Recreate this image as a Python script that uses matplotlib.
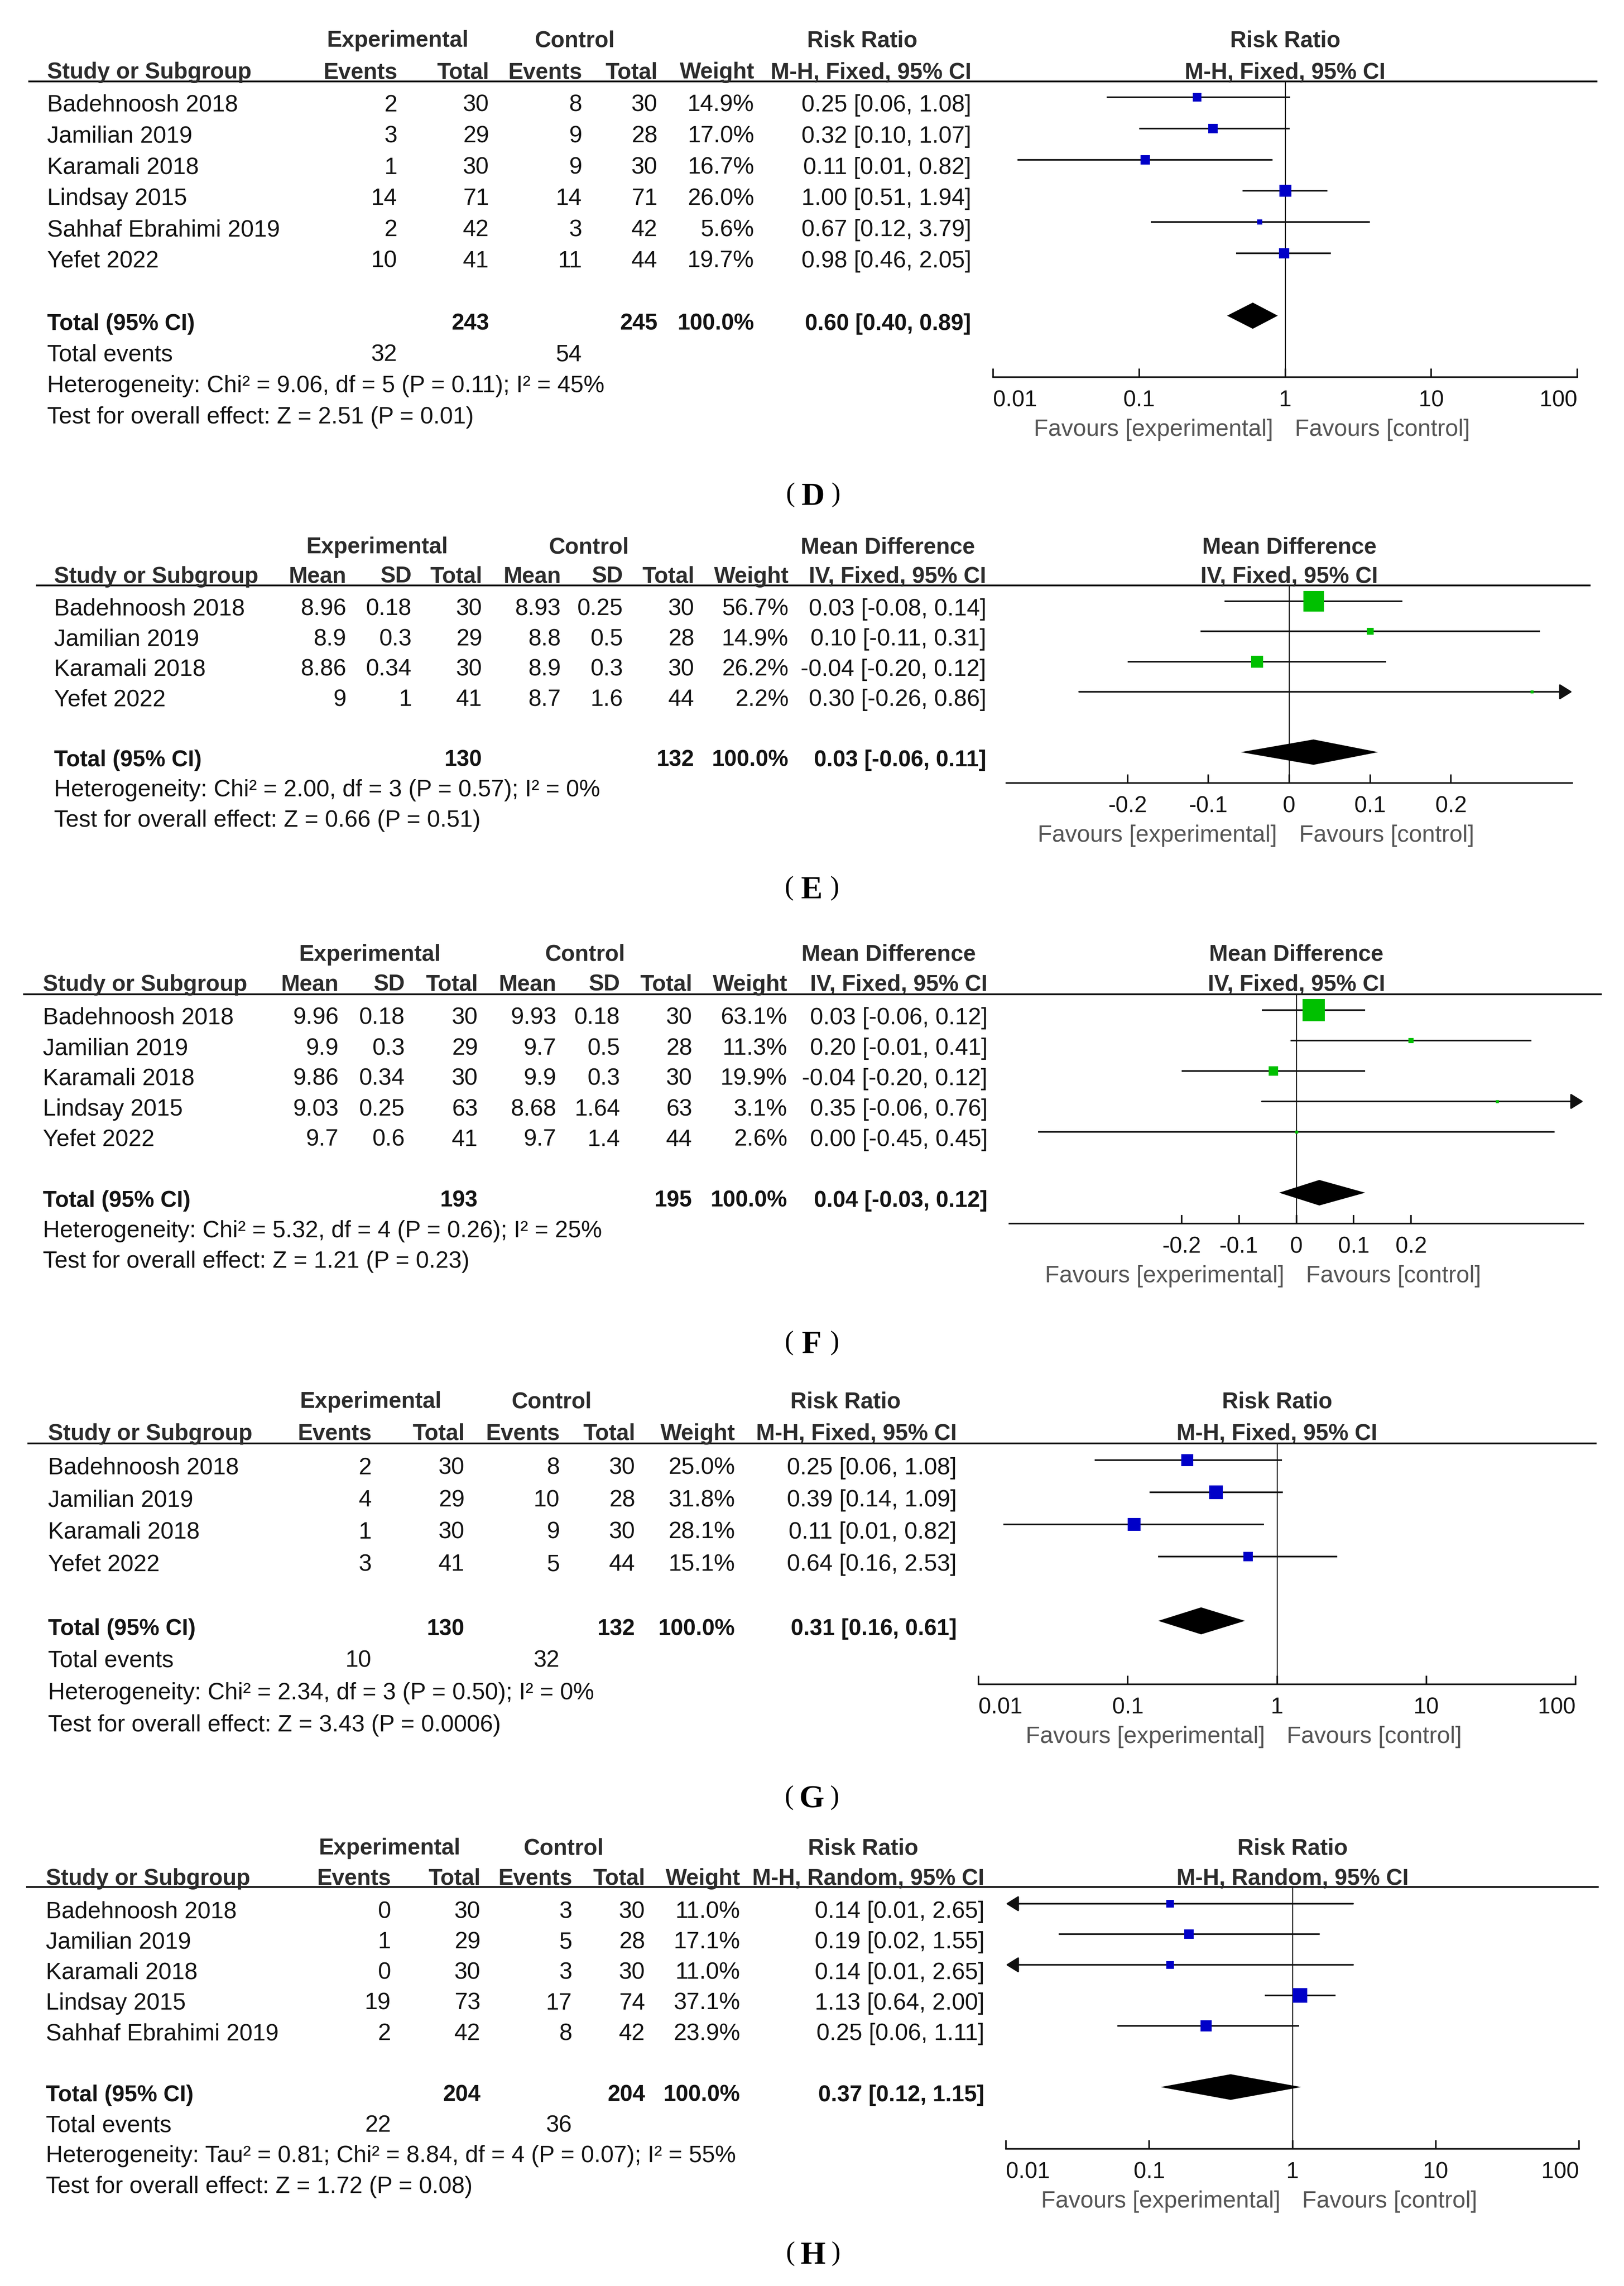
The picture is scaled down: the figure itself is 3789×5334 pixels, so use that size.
import numpy as np
import matplotlib
matplotlib.use('Agg')
import matplotlib.pyplot as plt

plt.rcParams['font.family'] = ['Liberation Sans', 'DejaVu Sans']

W, H = 3789, 5334

# ---------- (D) risk ratio, M-H fixed
d_studies = ['Badehnoosh 2018', 'Jamilian 2019', 'Karamali 2018', 'Lindsay 2015',
             'Sahhaf Ebrahimi 2019', 'Yefet 2022']
d_exp_events = [2, 3, 1, 14, 2, 10]
d_exp_total = [30, 29, 30, 71, 42, 41]
d_ctl_events = [8, 9, 9, 14, 3, 11]
d_ctl_total = [30, 28, 30, 71, 42, 44]
d_weight = [14.9, 17.0, 16.7, 26.0, 5.6, 19.7]
d_est = [0.25, 0.32, 0.11, 1.00, 0.67, 0.98]
d_lo = [0.06, 0.10, 0.0147, 0.51, 0.12, 0.46]
d_hi = [1.08, 1.07, 0.82, 1.94, 3.79, 2.05]
d_totals = [243, 245]
d_pooled = [0.60, 0.40, 0.89]
d_events = [32, 54]
d_het = 'Heterogeneity: Chi² = 9.06, df = 5 (P = 0.11); I² = 45%'
d_test = 'Test for overall effect: Z = 2.51 (P = 0.01)'

# ---------- (E) mean difference, IV fixed
e_studies = ['Badehnoosh 2018', 'Jamilian 2019', 'Karamali 2018', 'Yefet 2022']
e_exp_mean = [8.96, 8.9, 8.86, 9]
e_exp_sd = [0.18, 0.3, 0.34, 1]
e_exp_total = [30, 29, 30, 41]
e_ctl_mean = [8.93, 8.8, 8.9, 8.7]
e_ctl_sd = [0.25, 0.5, 0.3, 1.6]
e_ctl_total = [30, 28, 30, 44]
e_weight = [56.7, 14.9, 26.2, 2.2]
e_est = [0.03, 0.10, -0.04, 0.30]
e_lo = [-0.08, -0.11, -0.20, -0.26]
e_hi = [0.14, 0.31, 0.12, 0.86]
e_totals = [130, 132]
e_pooled = [0.03, -0.06, 0.11]
e_het = 'Heterogeneity: Chi² = 2.00, df = 3 (P = 0.57); I² = 0%'
e_test = 'Test for overall effect: Z = 0.66 (P = 0.51)'

# ---------- (F) mean difference, IV fixed
f_studies = ['Badehnoosh 2018', 'Jamilian 2019', 'Karamali 2018', 'Lindsay 2015', 'Yefet 2022']
f_exp_mean = [9.96, 9.9, 9.86, 9.03, 9.7]
f_exp_sd = [0.18, 0.3, 0.34, 0.25, 0.6]
f_exp_total = [30, 29, 30, 63, 41]
f_ctl_mean = [9.93, 9.7, 9.9, 8.68, 9.7]
f_ctl_sd = [0.18, 0.5, 0.3, 1.64, 1.4]
f_ctl_total = [30, 28, 30, 63, 44]
f_weight = [63.1, 11.3, 19.9, 3.1, 2.6]
f_est = [0.03, 0.20, -0.04, 0.35, 0.00]
f_lo = [-0.06, -0.01, -0.20, -0.06, -0.45]
f_hi = [0.12, 0.41, 0.12, 0.76, 0.45]
f_totals = [193, 195]
f_pooled = [0.04, -0.03, 0.12]
f_het = 'Heterogeneity: Chi² = 5.32, df = 4 (P = 0.26); I² = 25%'
f_test = 'Test for overall effect: Z = 1.21 (P = 0.23)'

# ---------- (G) risk ratio, M-H fixed
g_studies = ['Badehnoosh 2018', 'Jamilian 2019', 'Karamali 2018', 'Yefet 2022']
g_exp_events = [2, 4, 1, 3]
g_exp_total = [30, 29, 30, 41]
g_ctl_events = [8, 10, 9, 5]
g_ctl_total = [30, 28, 30, 44]
g_weight = [25.0, 31.8, 28.1, 15.1]
g_est = [0.25, 0.39, 0.11, 0.64]
g_lo = [0.06, 0.14, 0.0147, 0.16]
g_hi = [1.08, 1.09, 0.82, 2.53]
g_totals = [130, 132]
g_pooled = [0.31, 0.16, 0.61]
g_events = [10, 32]
g_het = 'Heterogeneity: Chi² = 2.34, df = 3 (P = 0.50); I² = 0%'
g_test = 'Test for overall effect: Z = 3.43 (P = 0.0006)'

# ---------- (H) risk ratio, M-H random
h_studies = ['Badehnoosh 2018', 'Jamilian 2019', 'Karamali 2018', 'Lindsay 2015',
             'Sahhaf Ebrahimi 2019']
h_exp_events = [0, 1, 0, 19, 2]
h_exp_total = [30, 29, 30, 73, 42]
h_ctl_events = [3, 5, 3, 17, 8]
h_ctl_total = [30, 28, 30, 74, 42]
h_weight = [11.0, 17.1, 11.0, 37.1, 23.9]
h_est = [0.14, 0.19, 0.14, 1.13, 0.25]
h_lo = [0.0077, 0.0233, 0.0077, 0.64, 0.06]
h_hi = [2.65, 1.55, 2.65, 2.00, 1.11]
h_totals = [204, 204]
h_pooled = [0.37, 0.12, 1.15]
h_events = [22, 36]
h_het = 'Heterogeneity: Tau² = 0.81; Chi² = 8.84, df = 4 (P = 0.07); I² = 55%'
h_test = 'Test for overall effect: Z = 1.72 (P = 0.08)'

log_ticks = [0.01, 0.1, 1, 10, 100]
log_labels = ['0.01', '0.1', '1', '10', '100']
md_ticks = [-0.2, -0.1, 0, 0.1, 0.2]
md_labels = ['-0.2', '-0.1', '0', '0.1', '0.2']

TXT = '#141414'
HDR = '#2c2c2c'
GRAY = '#555555'
LINE = '#111111'
FS = 39.5
FSB = 38
BLUE = '#0000c8'
GREEN = '#00c000'

fig = plt.figure(figsize=(W / 100, H / 100), dpi=100)
bg = fig.add_axes([0, 0, 1, 1])
bg.set_xlim(0, W)
bg.set_ylim(H, 0)
bg.axis('off')


def put(x, y, s, ha='right', bold=False, color=TXT):
    bg.text(x, y + 19, s, ha=ha, va='baseline', fontsize=FSB if bold else FS,
            fontweight='bold' if bold else 'normal', color=color)


def draw_panel(lay, groups, subheads, studies, cells, weight, est, lo, hi,
               totals, pooled, events, het, test, log, ticks, ticklabels,
               title, subtitle, mcolor, letter):
    row = lambda i: lay['row0'] + lay['sp'] * i
    cols = lay['cols']
    for txt, x in zip(groups, lay['grp']):
        put(x, lay['top'], txt, ha='center', bold=True, color=HDR)
    put(lay['x0'], lay['sub'], 'Study or Subgroup', ha='left', bold=True, color=HDR)
    for txt, x in zip(subheads, cols):
        put(x, lay['sub'], txt, bold=True, color=HDR)
    bg.plot(lay['line_x'], [lay['line'], lay['line']], color=LINE, lw=3.0,
            solid_capstyle='butt')

    n = len(studies)
    for i, name in enumerate(studies):
        put(lay['x0'], row(i), name, ha='left')
        vals = [f'{c[i]:g}' for c in cells]
        vals += [f'{weight[i]:.1f}%', f'{est[i]:.2f} [{lo[i]:.2f}, {hi[i]:.2f}]']
        for v, x in zip(vals, cols):
            put(x, row(i), v)

    k = n + 1
    put(lay['x0'], row(k), 'Total (95% CI)', ha='left', bold=True)
    ti = lay['tot_idx']
    put(cols[ti[0]], row(k), str(totals[0]), bold=True)
    put(cols[ti[1]], row(k), str(totals[1]), bold=True)
    put(cols[-2], row(k), '100.0%', bold=True)
    put(cols[-1], row(k), f'{pooled[0]:.2f} [{pooled[1]:.2f}, {pooled[2]:.2f}]', bold=True)
    k += 1
    if events is not None:
        put(lay['x0'], row(k), 'Total events', ha='left')
        put(cols[0], row(k), str(events[0]))
        put(cols[2], row(k), str(events[1]))
        k += 1
    put(lay['x0'], row(k), het, ha='left')
    put(lay['x0'], row(k + 1), test, ha='left')

    # forest plot
    fx0, fx1 = lay['forest']
    ytop, yax = lay['line'], lay['axis']
    ax = fig.add_axes([fx0 / W, 1 - yax / H, (fx1 - fx0) / W, (yax - ytop) / H])
    ax.patch.set_visible(False)
    if log:
        ax.set_xscale('log')
        ax.set_xlim(0.01, 100)
        null = 1
    else:
        ax.set_xlim(-lay['half'], lay['half'])
        null = 0
    ax.xaxis.set_minor_locator(plt.NullLocator())
    ax.set_ylim(yax, ytop)
    for s in ['top', 'left', 'right']:
        ax.spines[s].set_visible(False)
    ax.spines['bottom'].set_linewidth(2.6)
    ax.spines['bottom'].set_color(LINE)
    ax.set_yticks([])
    ax.set_xticks(ticks)
    ax.set_xticklabels(ticklabels, fontsize=38, color=TXT)
    ax.tick_params(axis='x', direction='in', length=14.5, width=2.6, pad=21,
                   color=LINE)
    if log:
        lbls = ax.get_xticklabels()
        lbls[0].set_ha('left')
        lbls[-1].set_ha('right')
    ax.axvline(null, color=LINE, lw=1.7, zorder=1)

    xmin, xmax = ax.get_xlim()
    a, b, mn = lay['box']
    arrow = dict(arrowstyle='-|>,head_length=0.45,head_width=0.28', color=LINE,
                 lw=2.7, shrinkA=0, shrinkB=0, mutation_scale=40)
    for i in range(n):
        y = row(i) - 14
        l, h = lo[i], hi[i]
        if l < xmin:
            ax.annotate('', xy=(xmin, y), xytext=(h, y), arrowprops=arrow)
        elif h > xmax:
            ax.annotate('', xy=(xmax, y), xytext=(l, y), arrowprops=arrow)
        else:
            ax.plot([l, h], [y, y], color=LINE, lw=2.7, solid_capstyle='butt', zorder=2)
        side = max(a * np.sqrt(weight[i]) + b, mn)
        ax.plot([est[i]], [y], marker='s', ms=side * 0.72, color=mcolor, mew=0,
                ls='none', zorder=4)

    yd = row(n + 1) - 14
    hd = 0.42 * lay['sp']
    ax.fill([pooled[1], pooled[0], pooled[2], pooled[0]], [yd, yd - hd, yd, yd + hd],
            color='black', lw=0, zorder=4)

    ax.text(null, lay['top'] + 19, title, ha='center', va='baseline', fontsize=FSB,
            fontweight='bold', color=HDR, clip_on=False)
    ax.text(null, lay['sub'] + 19, subtitle, ha='center', va='baseline', fontsize=FSB,
            fontweight='bold', color=HDR, clip_on=False)
    yfav = yax + 118 + 19
    ax.annotate('Favours [experimental]', xy=(null, yfav), xytext=(-20.5, 0),
                textcoords='offset points', ha='right', va='baseline', fontsize=FS,
                color=GRAY, annotation_clip=False)
    ax.annotate('Favours [control]', xy=(null, yfav), xytext=(16.5, 0),
                textcoords='offset points', ha='left', va='baseline', fontsize=FS,
                color=GRAY, annotation_clip=False)

    cx, cy = lay['label']
    bg.text(cx, cy + 25, letter, ha='center', va='baseline', family='Liberation Serif',
            fontweight='bold', fontsize=54, color='black')
    bg.text(cx - 53, cy + 16, '(', ha='center', va='baseline', family='Liberation Serif',
            fontsize=46, color='black')
    bg.text(cx + 54, cy + 16, ')', ha='center', va='baseline', family='Liberation Serif',
            fontsize=46, color='black')


rr_sub = ['Events', 'Total', 'Events', 'Total', 'Weight']
md_sub = ['Mean', 'SD', 'Total', 'Mean', 'SD', 'Total', 'Weight']

lay_d = dict(top=90, sub=164, line=190, row0=241, sp=72.8, x0=110,
             cols=[927, 1141, 1358, 1534, 1760, 2266], grp=[928, 1341, 2012],
             line_x=[66, 3727], forest=(2317, 3680), axis=880, tot_idx=(1, 3),
             box=(5.3, 0, 8), label=(1897, 1153))
lay_e = dict(top=1272, sub=1341, line=1366, row0=1417, sp=70.4, x0=126,
             cols=[808, 961, 1125, 1309, 1454, 1620, 1840, 2301], grp=[880, 1374, 2071],
             line_x=[84, 3711], forest=(2348, 3668), axis=1827, tot_idx=(2, 5),
             half=0.35, box=(8.5, -16.3, 7), label=(1894, 2071))
lay_f = dict(top=2223, sub=2293, line=2320, row0=2371, sp=71.0, x0=100,
             cols=[790, 945, 1115, 1298, 1447, 1615, 1837, 2304], grp=[863, 1365, 2073],
             line_x=[54, 3737], forest=(2355, 3694), axis=2855, tot_idx=(2, 5),
             half=0.5, box=(8.5, -16.3, 7), label=(1894, 3132))
lay_g = dict(top=3266, sub=3341, line=3368, row0=3421, sp=75.0, x0=112,
             cols=[867, 1084, 1306, 1482, 1715, 2232], grp=[865, 1287, 1973],
             line_x=[64, 3725], forest=(2283, 3676), axis=3930, tot_idx=(1, 3),
             box=(5.5, 0, 8), label=(1894, 4193))
lay_h = dict(top=4308, sub=4379, line=4403, row0=4456, sp=71.3, x0=107,
             cols=[912, 1121, 1335, 1505, 1727, 2297], grp=[909, 1315, 2014],
             line_x=[61, 3730], forest=(2347, 3684), axis=5014, tot_idx=(1, 3),
             box=(5.5, 0, 8), label=(1897, 5257))

draw_panel(lay_d, ['Experimental', 'Control', 'Risk Ratio'], rr_sub + ['M-H, Fixed, 95% CI'],
           d_studies, [d_exp_events, d_exp_total, d_ctl_events, d_ctl_total],
           d_weight, d_est, d_lo, d_hi, d_totals, d_pooled, d_events, d_het, d_test,
           True, log_ticks, log_labels, 'Risk Ratio', 'M-H, Fixed, 95% CI', BLUE, 'D')

draw_panel(lay_e, ['Experimental', 'Control', 'Mean Difference'], md_sub + ['IV, Fixed, 95% CI'],
           e_studies, [e_exp_mean, e_exp_sd, e_exp_total, e_ctl_mean, e_ctl_sd, e_ctl_total],
           e_weight, e_est, e_lo, e_hi, e_totals, e_pooled, None, e_het, e_test,
           False, md_ticks, md_labels, 'Mean Difference', 'IV, Fixed, 95% CI', GREEN, 'E')

draw_panel(lay_f, ['Experimental', 'Control', 'Mean Difference'], md_sub + ['IV, Fixed, 95% CI'],
           f_studies, [f_exp_mean, f_exp_sd, f_exp_total, f_ctl_mean, f_ctl_sd, f_ctl_total],
           f_weight, f_est, f_lo, f_hi, f_totals, f_pooled, None, f_het, f_test,
           False, md_ticks, md_labels, 'Mean Difference', 'IV, Fixed, 95% CI', GREEN, 'F')

draw_panel(lay_g, ['Experimental', 'Control', 'Risk Ratio'], rr_sub + ['M-H, Fixed, 95% CI'],
           g_studies, [g_exp_events, g_exp_total, g_ctl_events, g_ctl_total],
           g_weight, g_est, g_lo, g_hi, g_totals, g_pooled, g_events, g_het, g_test,
           True, log_ticks, log_labels, 'Risk Ratio', 'M-H, Fixed, 95% CI', BLUE, 'G')

draw_panel(lay_h, ['Experimental', 'Control', 'Risk Ratio'], rr_sub + ['M-H, Random, 95% CI'],
           h_studies, [h_exp_events, h_exp_total, h_ctl_events, h_ctl_total],
           h_weight, h_est, h_lo, h_hi, h_totals, h_pooled, h_events, h_het, h_test,
           True, log_ticks, log_labels, 'Risk Ratio', 'M-H, Random, 95% CI', BLUE, 'H')

fig.savefig('out.png', dpi=100, facecolor='white')
